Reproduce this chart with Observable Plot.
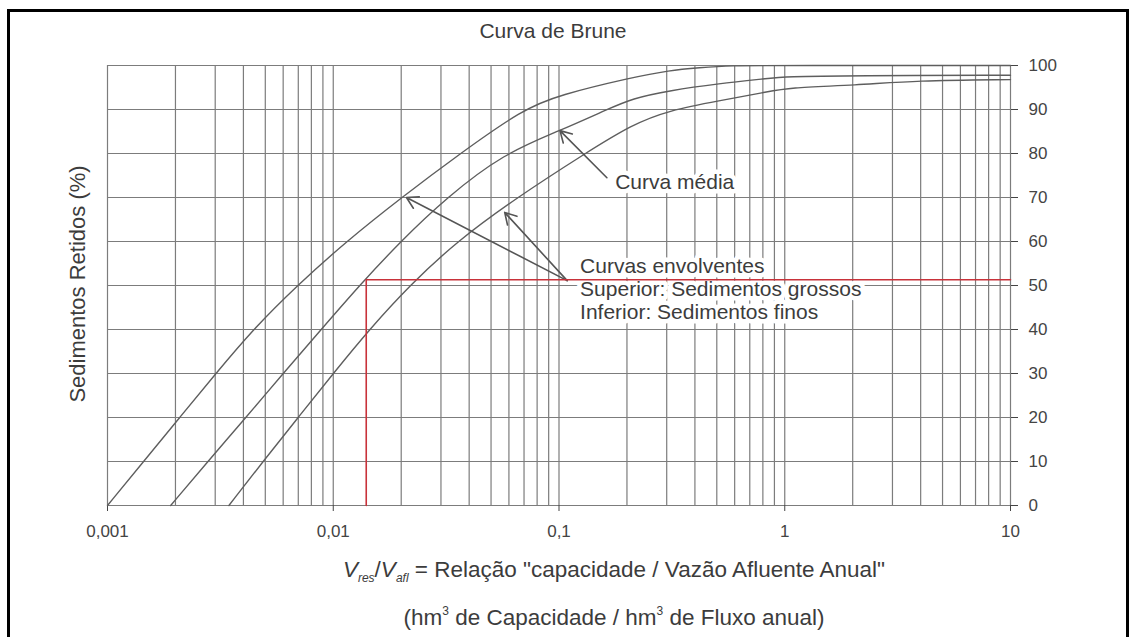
<!DOCTYPE html>
<html>
<head>
<meta charset="utf-8">
<script src="https://cdn.jsdelivr.net/npm/d3@7"></script>
<script src="https://cdn.jsdelivr.net/npm/@observablehq/plot@0.6"></script>
<style>
  body { margin: 0; background: #fff; font-family: "Liberation Sans", Arial, sans-serif; color: #3c3c3c; }
  #wrap { position: relative; width: 1131px; height: 637px; overflow: hidden; background: #fff; }
  #border { position: absolute; left: 7px; top: 9px; width: 1122px; height: 700px; border: 3px solid #000; box-sizing: border-box; }
  #chart { position: absolute; left: 0; top: 0; }
  .title { position: absolute; left: 403px; width: 300px; top: 20px; text-align: center; font-size: 21px; line-height: 21px; }
  .ylab { position: absolute; left: 78px; top: 284px; transform: translate(-50%, -50%) rotate(-90deg); white-space: nowrap; font-size: 22px; line-height: 22px; }
  .xlab { position: absolute; left: 214px; width: 800px; text-align: center; font-size: 22.5px; line-height: 22px; white-space: nowrap; }
  .xlab sub { font-size: 12px; vertical-align: -5px; font-style: italic; }
  .xlab sup { font-size: 12px; vertical-align: 10px; }
</style>
</head>
<body>
<div id="wrap">
  <div id="border"></div>
  <div id="chart"></div>
  <div class="title">Curva de Brune</div>
  <div class="ylab">Sedimentos Retidos (%)</div>
  <div class="xlab" style="top:559px"><i>V</i><sub>res</sub>/<i>V</i><sub>afl</sub> = Relação "capacidade / Vazão Afluente Anual"</div>
  <div class="xlab" style="top:600px">(hm<sup>3</sup> de Capacidade / hm<sup>3</sup> de Fluxo anual)</div>
</div>
<script>
// ---- Data ----
const xTicks = [0.001, 0.01, 0.1, 1, 10];
const xTickLabels = ["0,001", "0,01", "0,1", "1", "10"];
const yTicks = [0, 10, 20, 30, 40, 50, 60, 70, 80, 90, 100];
const gridDecades = [0.001, 0.01, 0.1, 1];
const gridMultipliers = [1, 2, 3, 4, 5, 6, 7, 8, 9];

// Upper envelope (coarse sediments)
const upperX = [0.001, 0.001445, 0.002089, 0.00302, 0.004409, 0.006918, 0.01142, 0.02006, 0.0365, 0.069, 0.1, 0.211, 0.308, 0.419, 0.57, 1, 10];
const upperY = [0, 10, 20, 30, 40, 50, 60, 70, 80, 90, 93.3, 97.3, 98.9, 99.5, 100, 100, 100];
// Median curve
const middleX = [0.001905, 0.002783, 0.004104, 0.005995, 0.008845, 0.01305, 0.01985, 0.03178, 0.05696, 0.101, 0.1634, 0.211, 0.308, 0.514, 0.824, 1.01, 2, 10];
const middleY = [0, 10, 20, 30, 40, 50, 60, 70, 80, 85.2, 90, 92.5, 94.3, 95.9, 97, 97.5, 97.7, 97.8];
// Lower envelope (fine sediments)
const lowerX = [0.00345, 0.004886, 0.006991, 0.01, 0.01445, 0.02177, 0.03521, 0.0651, 0.1305, 0.211, 0.308, 0.514, 0.824, 1.03, 2.07, 3.82, 10];
const lowerY = [0, 10, 20, 30, 40, 50, 60, 70, 80, 86.6, 89.8, 92, 93.9, 95, 95.5, 96.6, 96.8];

// Example reading (red lines)
const readingX = [0.014, 0.014, 10];
const readingY = [0, 51.3, 51.3];

// Annotations
const labelTexts = ["Curva média", "Curvas envolventes", "Superior: Sedimentos grossos", "Inferior: Sedimentos finos"];
const labelX = [0.1774, 0.124, 0.124, 0.124];
const labelY = [73.4, 54.3, 49.1, 43.9];
const arrowFromX = [0.163, 0.1087, 0.1087];
const arrowFromY = [74.5, 51.1, 51.1];
const arrowToX = [0.101, 0.0211, 0.0575];
const arrowToY = [85.2, 70, 66.6];

// ---- Build tables ----
const gridX = gridDecades.flatMap(d => gridMultipliers.map(m => +(d * m).toPrecision(3))).concat([10]);
const xLabelMap = new Map(xTicks.map((t, i) => [t, xTickLabels[i]]));
const curveRows = [
  ...upperX.map((x, i) => ({curve: "upper", x, y: upperY[i]})),
  ...middleX.map((x, i) => ({curve: "middle", x, y: middleY[i]})),
  ...lowerX.map((x, i) => ({curve: "lower", x, y: lowerY[i]}))
];
const redRows = readingX.map((x, i) => ({x, y: readingY[i]}));
const labels = labelTexts.map((text, i) => ({text, x: labelX[i], y: labelY[i]}));
const arrows = arrowFromX.map((x1, i) => ({x1, y1: arrowFromY[i], x2: arrowToX[i], y2: arrowToY[i]}));

const chart = Plot.plot({
  width: 1131,
  height: 637,
  marginLeft: 107,
  marginRight: 121,
  marginTop: 65,
  marginBottom: 132,
  x: {type: "log", domain: [0.001, 10]},
  y: {domain: [0, 100]},
  style: {fontFamily: "'Liberation Sans', Arial, sans-serif", fontSize: "17px", color: "#444", background: "transparent"},
  marks: [
    Plot.ruleX(gridX, {stroke: "#7c7c7c", strokeWidth: 1.2}),
    Plot.ruleY(yTicks, {stroke: "#7c7c7c", strokeWidth: 1.2}),
    Plot.axisX(xTicks, {tickFormat: d => xLabelMap.get(d), tickSize: 6, tickPadding: 13, label: null}),
    Plot.axisY(yTicks, {anchor: "right", tickSize: 7, tickPadding: 11, label: null}),
    Plot.text(labels, {x: "x", y: "y", text: "text", textAnchor: "start", fontSize: 21, fill: "#3c3c3c", stroke: "white", strokeWidth: 9, paintOrder: "stroke"}),
    Plot.line(curveRows, {x: "x", y: "y", z: "curve", stroke: "#5e5e5e", strokeWidth: 1.4, curve: "basis"}),
    Plot.arrow(arrows, {x1: "x1", y1: "y1", x2: "x2", y2: "y2", stroke: "#555", strokeWidth: 1.6, headLength: 12}),
    Plot.line(redRows, {x: "x", y: "y", stroke: "#c8323a", strokeWidth: 1.6})
  ]
});
document.getElementById("chart").appendChild(chart);
</script>
</body>
</html>
